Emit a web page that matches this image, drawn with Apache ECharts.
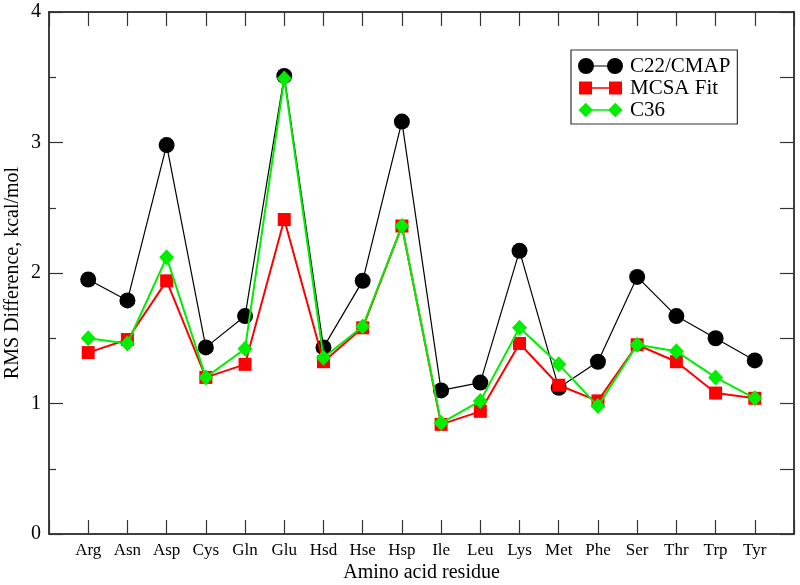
<!DOCTYPE html>
<html>
<head>
<meta charset="utf-8">
<script src="https://cdn.jsdelivr.net/npm/echarts@6/dist/echarts.min.js"></script>
<style>html,body{margin:0;padding:0;background:#fff}#c{width:800px;height:585px}</style>
</head>
<body>
<div id="c"></div>
<script>
var residues = ['Arg','Asn','Asp','Cys','Gln','Glu','Hsd','Hse','Hsp','Ile','Leu','Lys','Met','Phe','Ser','Thr','Trp','Tyr'];
var c22cmap = [1.95,1.79,2.98,1.43,1.67,3.51,1.43,1.94,3.16,1.10,1.16,2.17,1.12,1.32,1.97,1.67,1.50,1.33];
var mcsaFit = [1.39,1.49,1.94,1.20,1.30,2.41,1.32,1.58,2.36,0.84,0.94,1.46,1.14,1.02,1.45,1.32,1.08,1.04];
var c36     = [1.50,1.46,2.12,1.20,1.42,3.49,1.35,1.59,2.36,0.85,1.02,1.58,1.30,0.98,1.45,1.40,1.20,1.04];
var yTicks = [0,1,2,3,4];

function pairs(arr){ return arr.map(function(v,i){ return [i+1, v]; }); }

var FONT = '"Liberation Serif", "DejaVu Serif", serif';
var iconCircle = 'path://M0,8A8,8 0 1,1 16,8A8,8 0 1,1 0,8Z M29,8A8,8 0 1,1 45,8A8,8 0 1,1 29,8Z M14,7.5L31,7.5L31,8.5L14,8.5Z';
var iconSquare = 'path://M0,0M45,16M1,1.5L14,1.5L14,14.5L1,14.5Z M31,1.5L44,1.5L44,14.5L31,14.5Z M14,7.25L31,7.25L31,8.75L14,8.75Z';
var iconDiamond = 'path://M0,0M45,16M0.5,8L7.75,0.75L15,8L7.75,15.25Z M30,8L37.25,0.75L44.5,8L37.25,15.25Z M14,7.25L31,7.25L31,8.75L14,8.75Z';

var chart = echarts.init(document.getElementById('c'), null, {renderer:'canvas'});
var axisLine = {show:true, onZero:false, lineStyle:{color:'#000', width:1.5}};
var tickStyle = {color:'#333', width:1.2};
chart.setOption({
  animation:false,
  backgroundColor:'#fff',
  grid:{left:49, right:6, top:12, bottom:51, containLabel:false, outerBoundsMode:'none'},
  legend:{
    left:571, top:50,
    orient:'vertical',
    backgroundColor:'#fff',
    borderColor:'#333', borderWidth:1.2,
    padding:[5,7,3,7],
    itemWidth:45, itemHeight:16, itemGap:0,
    textStyle:{fontFamily:FONT, fontSize:21, lineHeight:22, color:'#000', padding:[0,0,0,2]},
    data:[
      {name:'C22/CMAP', icon:iconCircle},
      {name:'MCSA Fit', icon:iconSquare},
      {name:'C36', icon:iconDiamond}
    ]
  },
  xAxis:[{
    type:'value', min:0, max:residues.length+1, interval:1,
    name:'Amino acid residue', nameLocation:'middle', nameGap:29, nameMoveOverlap:false,
    nameTextStyle:{fontFamily:FONT, fontSize:20, color:'#000'},
    axisLine:axisLine,
    axisTick:{show:true, inside:true, length:14, lineStyle:tickStyle},
    axisLabel:{fontFamily:FONT, fontSize:17, color:'#000', margin:8,
      formatter:function(v){ return residues[v-1] || ''; }},
    splitLine:{show:false}
  },{
    type:'value', position:'top', min:0, max:residues.length+1, interval:1,
    axisLine:axisLine,
    axisTick:{show:true, inside:true, length:14, lineStyle:tickStyle},
    axisLabel:{show:false}, splitLine:{show:false}
  }],
  yAxis:[{
    type:'value', min:yTicks[0], max:yTicks[yTicks.length-1], interval:1,
    name:'RMS Difference, kcal/mol', nameLocation:'middle', nameGap:26, nameMoveOverlap:false,
    nameTextStyle:{fontFamily:FONT, fontSize:20, color:'#000'},
    axisLine:axisLine,
    axisTick:{show:true, inside:true, length:14, lineStyle:tickStyle},
    minorTick:{show:true, splitNumber:2, length:7, lineStyle:tickStyle},
    axisLabel:{fontFamily:FONT, fontSize:20, color:'#000', margin:8},
    splitLine:{show:false}, minorSplitLine:{show:false}
  },{
    type:'value', position:'right', min:0, max:4, interval:0.5,
    axisLine:axisLine,
    axisTick:{show:true, inside:true, length:14, lineStyle:tickStyle},
    axisLabel:{show:false}, splitLine:{show:false}
  }],
  series:[
    {name:'C22/CMAP', type:'line', data:pairs(c22cmap), symbol:'circle', symbolSize:16,
     itemStyle:{color:'#000'}, lineStyle:{color:'#000', width:1.2}, z:2},
    {name:'MCSA Fit', type:'line', data:pairs(mcsaFit), symbol:'rect', symbolSize:13,
     itemStyle:{color:'#ff0000'}, lineStyle:{color:'#ff0000', width:2}, z:3},
    {name:'C36', type:'line', data:pairs(c36), symbol:'diamond', symbolSize:[15,16],
     itemStyle:{color:'#00ee00'}, lineStyle:{color:'#00ee00', width:2}, z:4}
  ]
});
</script>
</body>
</html>
